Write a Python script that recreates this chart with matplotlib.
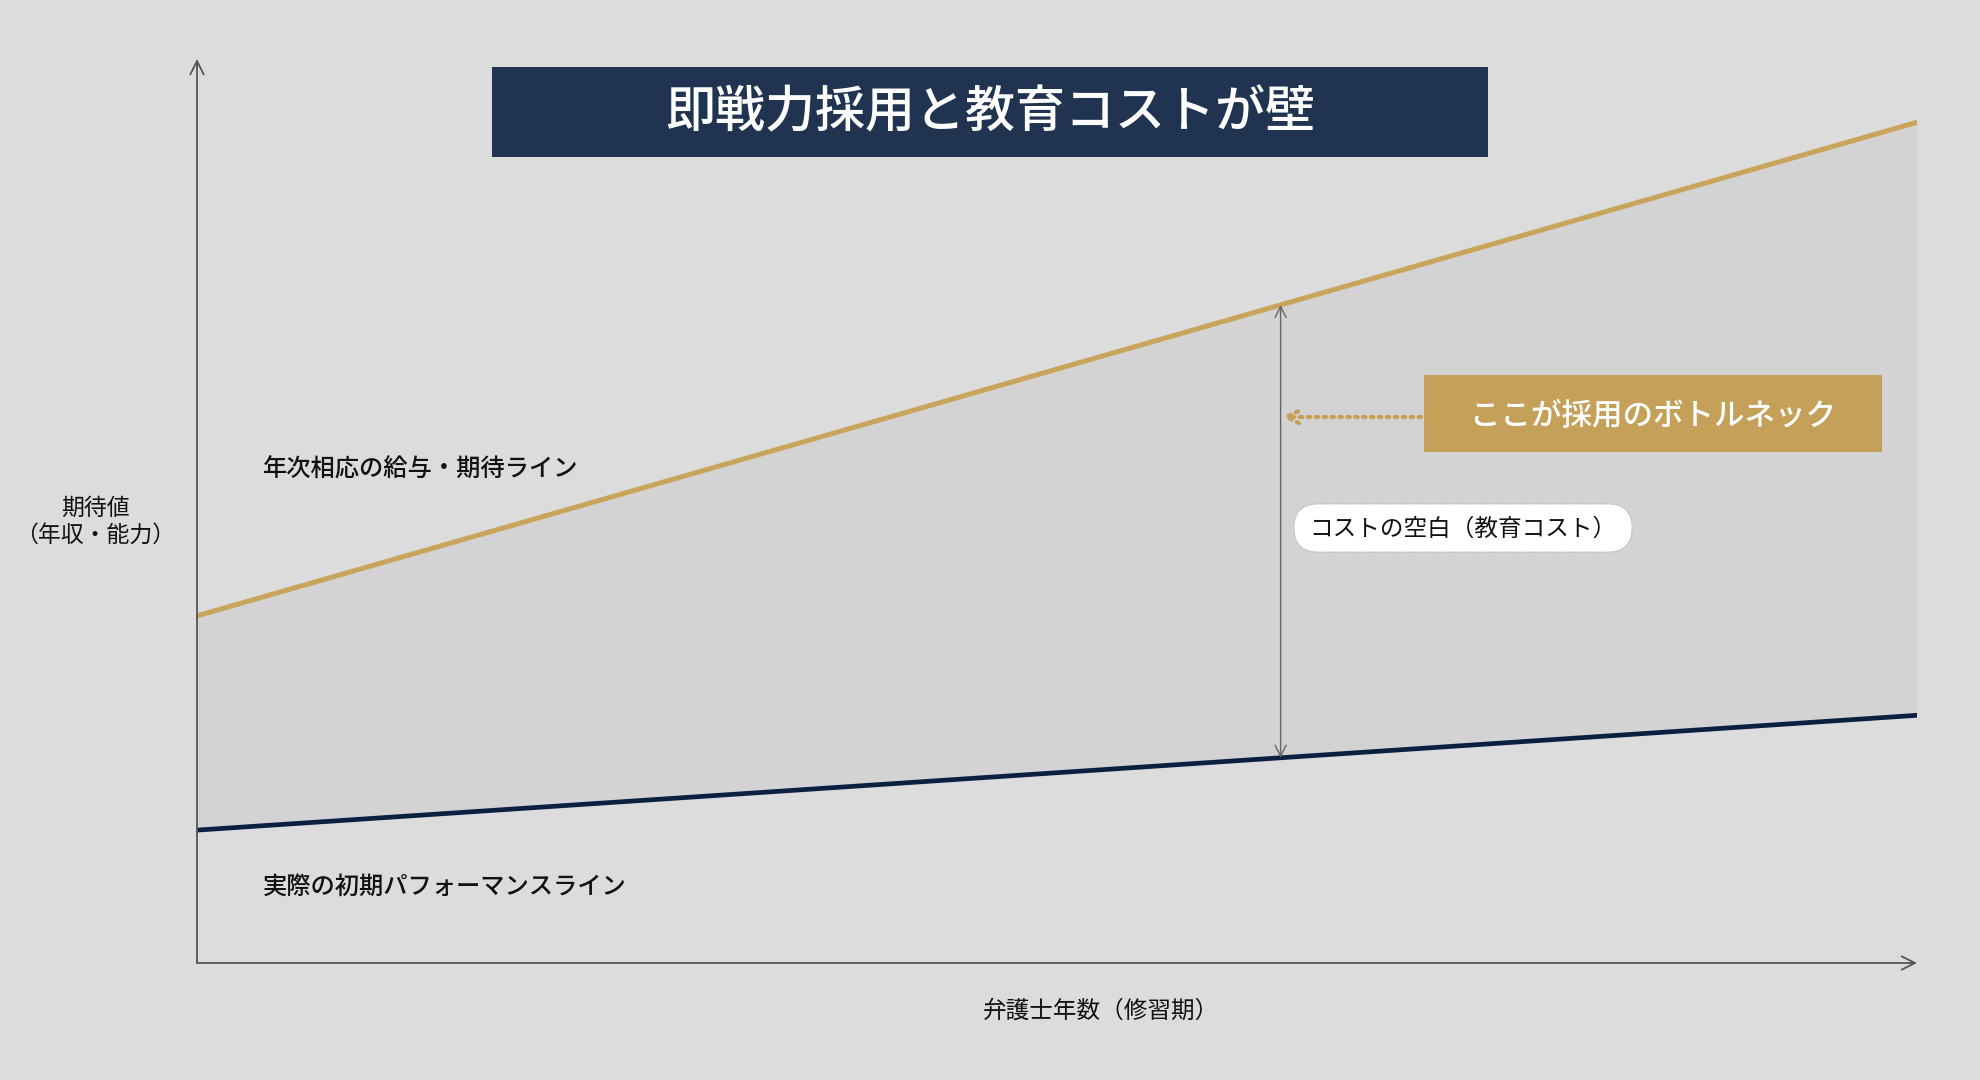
import numpy as np
import matplotlib.pyplot as plt
from matplotlib.patches import Rectangle, FancyBboxPatch

plt.rcParams['font.family'] = ['Noto Sans CJK JP', 'DejaVu Sans']

# data (arbitrary units)
years = [0, 10]
expected_line = [38.4, 93.0]   # 年次相応の給与・期待ライン
actual_line = [14.7, 27.4]     # 実際の初期パフォーマンスライン
gap_at_year = 6.3              # where the cost gap is marked

title = "即戦力採用と教育コストが壁"
label_expected = "年次相応の給与・期待ライン"
label_actual = "実際の初期パフォーマンスライン"
label_gap = "コストの空白（教育コスト）"
label_bottleneck = "ここが採用のボトルネック"
xlabel = "弁護士年数（修習期）"
ylabel = "期待値\n（年収・能力）"

BG = '#dcdcdc'
FILL = '#d3d3d3'
GOLD = '#c9a55c'
GOLD_BOX = '#c4a059'
NAVY = '#0b1f40'
TITLE_BG = '#203452'
AXIS = '#555555'

W, H = 1980, 1080
fig = plt.figure(figsize=(W / 100, H / 100), dpi=100, facecolor=BG)

# main plotting area (pixel box 197..1917 x, 59..963 y)
ax = fig.add_axes([197 / W, 1 - 963 / H, 1720 / W, 904 / H])
ax.set_facecolor('none')
ax.set_xlim(0, 10)
ax.set_ylim(0, 100)
for s in ax.spines.values():
    s.set_visible(False)
ax.set_xticks([])
ax.set_yticks([])

ax.fill_between(years, actual_line, expected_line, color=FILL, lw=0, zorder=1)
ax.plot(years, expected_line, color=GOLD, lw=3.6, solid_capstyle='round', zorder=3)
ax.plot(years, actual_line, color=NAVY, lw=3.4, solid_capstyle='round', zorder=3)

# axis arrows
ax.annotate('', xy=(0, 1), xytext=(0, 0), xycoords='axes fraction',
            arrowprops=dict(arrowstyle='->', color=AXIS, lw=1.3, mutation_scale=24,
                            shrinkA=0, shrinkB=0), zorder=4)
ax.annotate('', xy=(1, 0), xytext=(0, 0), xycoords='axes fraction',
            arrowprops=dict(arrowstyle='->', color=AXIS, lw=1.3, mutation_scale=24,
                            shrinkA=0, shrinkB=0), zorder=4)

# gap arrow between the two lines
top = np.interp(gap_at_year, years, expected_line)
bot = np.interp(gap_at_year, years, actual_line)
ax.annotate('', xy=(gap_at_year, top), xytext=(gap_at_year, bot),
            arrowprops=dict(arrowstyle='<->', color='#666666', lw=1.0, mutation_scale=20,
                            shrinkA=0, shrinkB=0), zorder=4)

# overlay in pixel coordinates for the layout pieces
lay = fig.add_axes([0, 0, 1, 1])
lay.set_xlim(0, W)
lay.set_ylim(H, 0)
lay.axis('off')
lay.set_facecolor('none')

lay.add_patch(Rectangle((492, 67), 996, 90, facecolor=TITLE_BG, edgecolor='none', zorder=2))
lay.text(990, 113, title, color='white', fontsize=36, fontweight='medium',
         ha='center', va='center', zorder=3)

lay.add_patch(Rectangle((1424, 375), 458, 77, facecolor=GOLD_BOX, edgecolor='none', zorder=2))
lay.text(1653, 416, label_bottleneck, color='white', fontsize=22, fontweight='medium',
         ha='center', va='center', zorder=3)
lay.annotate('', xy=(1282, 417), xytext=(1421, 417),
             arrowprops=dict(arrowstyle='->', color=GOLD_BOX, lw=3.0, linestyle=(0, (0.6, 1.3)),
                             capstyle='round', mutation_scale=22, shrinkA=0, shrinkB=0), zorder=3)

lay.add_patch(FancyBboxPatch((1294, 504), 338, 48, boxstyle='round,pad=0,rounding_size=24',
                             facecolor='white', edgecolor='#aaaaaa', lw=0.8,
                             linestyle=(0, (1, 1)), zorder=2))
lay.text(1463, 529, label_gap, color='#111111', fontsize=17,
         ha='center', va='center', zorder=3)

lay.text(263, 470, label_expected, color='#111111', fontsize=17.5, fontweight='medium',
         ha='left', va='center')
lay.text(263, 887, label_actual, color='#111111', fontsize=17.5, fontweight='medium',
         ha='left', va='center')
lay.text(95, 522, ylabel, color='#111111', fontsize=16.5, ha='center', va='center',
         linespacing=1.25)
lay.text(1101, 1011, xlabel, color='#111111', fontsize=17, ha='center', va='center')

fig.savefig('out.png', dpi=100, facecolor=BG)
